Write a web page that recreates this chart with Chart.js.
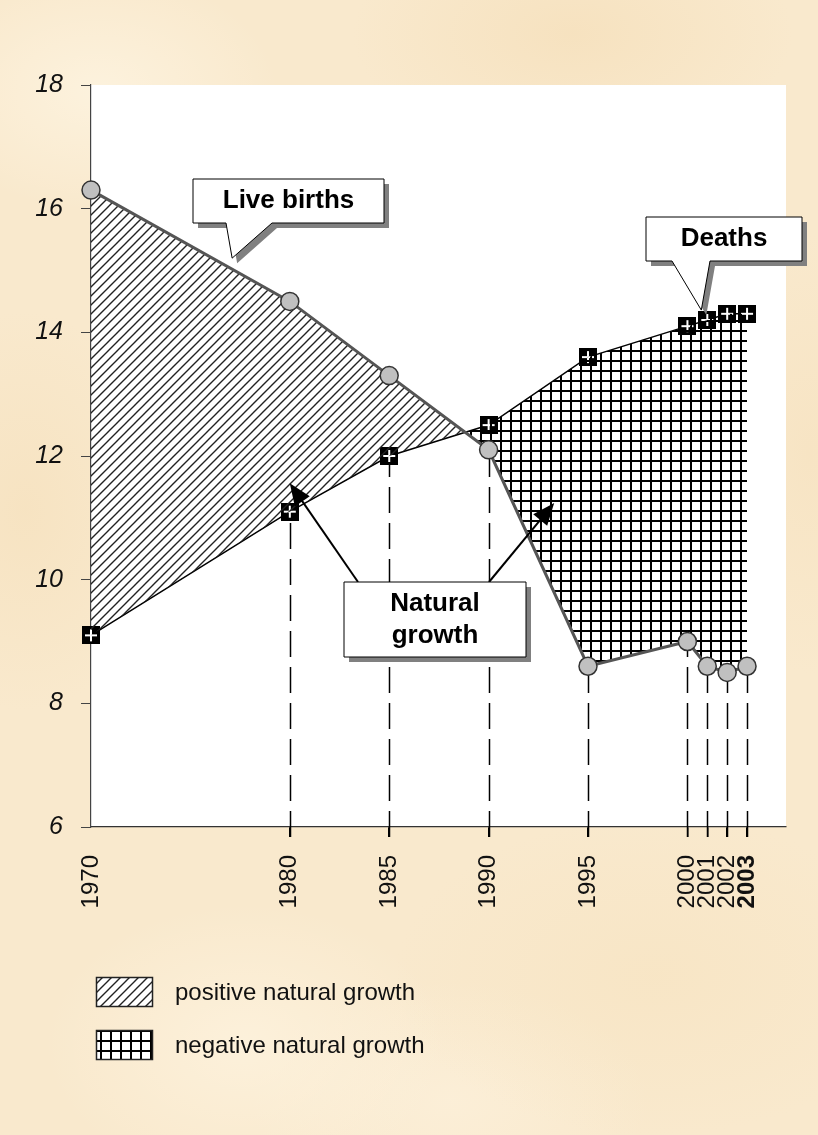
<!DOCTYPE html>
<html><head><meta charset="utf-8">
<script src="https://cdn.jsdelivr.net/npm/chart.js@4.4.1/dist/chart.umd.min.js"></script>
<style>
html,body{margin:0;padding:0;width:818px;height:1135px;overflow:hidden}
body{
 background-color:#f9e9cd;
 background-image:
  radial-gradient(ellipse 180px 120px at 12% 8%, rgba(255,248,232,0.6), rgba(255,248,232,0) 100%),
  radial-gradient(ellipse 220px 120px at 70% 3%, rgba(244,220,180,0.55), rgba(244,220,180,0) 100%),
  radial-gradient(ellipse 140px 200px at 3% 45%, rgba(244,221,182,0.5), rgba(244,221,182,0) 100%),
  radial-gradient(ellipse 200px 140px at 30% 92%, rgba(255,246,228,0.6), rgba(255,246,228,0) 100%),
  radial-gradient(ellipse 260px 160px at 80% 86%, rgba(246,225,188,0.45), rgba(246,225,188,0) 100%),
  radial-gradient(ellipse 110px 220px at 99% 40%, rgba(245,223,186,0.5), rgba(245,223,186,0) 100%),
  radial-gradient(ellipse 200px 120px at 55% 97%, rgba(253,242,222,0.6), rgba(253,242,222,0) 100%);
}
canvas{display:block}
</style></head><body>
<canvas id="c" width="818" height="1135"></canvas>
<script>
// ---- data ----
const years = [1970, 1980, 1985, 1990, 1995, 2000, 2001, 2002, 2003];
const liveBirths = [16.3, 14.5, 13.3, 12.1, 8.6, 9.0, 8.6, 8.5, 8.6];
const deaths = [9.1, 11.1, 12.0, 12.5, 13.6, 14.1, 14.2, 14.3, 14.3];
const yTicks = [6, 8, 10, 12, 14, 16, 18];
const boldYear = 2003;
const legendLabels = ['positive natural growth', 'negative natural growth'];
const birthsLabel = 'Live births';
const deathsLabel = 'Deaths';
const growthLabel = ['Natural', 'growth'];

const SANS = "'Liberation Sans',Arial,sans-serif";

// ---- patterns ----
function makeHatch() {
  const c = document.createElement('canvas'); c.width = 9; c.height = 9;
  const g = c.getContext('2d');
  g.strokeStyle = '#222'; g.lineWidth = 1.4;
  g.beginPath();
  g.moveTo(-1, 10); g.lineTo(10, -1);
  g.moveTo(-3, 3); g.lineTo(3, -3);
  g.moveTo(6, 12); g.lineTo(12, 6);
  g.stroke();
  return c;
}
function makeGrid() {
  const c = document.createElement('canvas'); c.width = 10; c.height = 10;
  const g = c.getContext('2d');
  g.fillStyle = '#000';
  g.fillRect(0, 0, 10, 2);
  g.fillRect(0, 0, 2, 10);
  return c;
}
function makeDeathMarker() {
  const c = document.createElement('canvas'); c.width = 18; c.height = 18;
  const g = c.getContext('2d');
  g.fillStyle = '#000'; g.fillRect(0, 0, 18, 18);
  g.fillStyle = '#fff';
  g.fillRect(3, 8, 12, 2);
  g.fillRect(8, 3, 2, 12);
  return c;
}
const ctx0 = document.getElementById('c').getContext('2d');
const hatchPat = ctx0.createPattern(makeHatch(), 'repeat');
const gridPat = ctx0.createPattern(makeGrid(), 'repeat');
const deathMarker = makeDeathMarker();

// ---- decorations plugin ----
function calloutPath(ctx, b, pl, pr, tip, dx, dy) {
  ctx.beginPath();
  ctx.moveTo(b.x0 + dx, b.y0 + dy);
  ctx.lineTo(b.x1 + dx, b.y0 + dy);
  ctx.lineTo(b.x1 + dx, b.y1 + dy);
  if (pl !== null) {
    ctx.lineTo(pr + dx, b.y1 + dy);
    ctx.lineTo(tip.x + dx, tip.y + dy);
    ctx.lineTo(pl + dx, b.y1 + dy);
  }
  ctx.lineTo(b.x0 + dx, b.y1 + dy);
  ctx.closePath();
}
function drawCallout(ctx, b, pl, pr, tip, lines, lh) {
  ctx.save();
  ctx.fillStyle = '#808080';
  calloutPath(ctx, b, pl, pr, tip, 5, 5); ctx.fill();
  ctx.fillStyle = '#fff'; ctx.strokeStyle = '#000'; ctx.lineWidth = 1;
  calloutPath(ctx, b, pl, pr, tip, 0, 0); ctx.fill(); ctx.stroke();
  ctx.fillStyle = '#000';
  ctx.font = 'bold 26px ' + SANS;
  ctx.textAlign = 'center'; ctx.textBaseline = 'middle';
  const cx = (b.x0 + b.x1) / 2, cy = (b.y0 + b.y1) / 2;
  lines.forEach((t, i) => ctx.fillText(t, cx, cy + (i - (lines.length - 1) / 2) * lh));
  ctx.restore();
}
function drawArrow(ctx, x0, y0, x1, y1) {
  const a = Math.atan2(y1 - y0, x1 - x0), L = 22, W = 9;
  ctx.save();
  ctx.strokeStyle = '#000'; ctx.fillStyle = '#000'; ctx.lineWidth = 2;
  ctx.beginPath(); ctx.moveTo(x0, y0);
  ctx.lineTo(x1 - Math.cos(a) * L * 0.8, y1 - Math.sin(a) * L * 0.8); ctx.stroke();
  ctx.beginPath();
  ctx.moveTo(x1, y1);
  ctx.lineTo(x1 - Math.cos(a) * L + Math.sin(a) * W, y1 - Math.sin(a) * L - Math.cos(a) * W);
  ctx.lineTo(x1 - Math.cos(a) * L - Math.sin(a) * W, y1 - Math.sin(a) * L + Math.cos(a) * W);
  ctx.closePath(); ctx.fill();
  ctx.restore();
}

const deco = {
  id: 'deco',
  beforeDraw(chart) {
    const a = chart.chartArea, ctx = chart.ctx;
    ctx.save(); ctx.fillStyle = '#fff';
    ctx.fillRect(a.left, a.top, a.right - a.left, a.bottom - a.top);
    ctx.restore();
  },
  beforeDatasetsDraw(chart) {
    const ctx = chart.ctx, xs = chart.scales.x, ys = chart.scales.y, a = chart.chartArea;
    ctx.save();
    ctx.strokeStyle = '#000'; ctx.lineWidth = 1.5; ctx.setLineDash([26, 10]);
    years.forEach((yr, i) => {
      const px0 = xs.getPixelForValue(yr);
      if (px0 <= a.left + 2) return;
      const lo = Math.min(liveBirths[i], deaths[i]);
      const py = ys.getPixelForValue(lo);
      const px = Math.round(px0) + 0.5;
      ctx.beginPath(); ctx.moveTo(px, a.bottom + 10); ctx.lineTo(px, py); ctx.stroke();
    });
    ctx.restore();
  },
  afterDatasetsDraw(chart) {
    const ctx = chart.ctx, xs = chart.scales.x, ys = chart.scales.y;
    const P = (x, y) => ({ x: xs.getPixelForValue(x), y: ys.getPixelForValue(y) });
    drawCallout(ctx, { x0: 193, y0: 179, x1: 384, y1: 223 }, 226, 272, P(1977.1, 15.2), [birthsLabel], 0);
    drawCallout(ctx, { x0: 646, y0: 217, x1: 802, y1: 261 }, 672, 710, P(2000.7, 14.36), [deathsLabel], 0);
    const t1 = P(1980.0, 11.56), t2 = P(1993.3, 11.24);
    drawArrow(ctx, 358, 582, t1.x, t1.y);
    drawArrow(ctx, 489, 582, t2.x, t2.y);
    drawCallout(ctx, { x0: 344, y0: 582, x1: 526, y1: 657 }, null, null, null, growthLabel, 32);
  },
  afterDraw(chart) {
    const ctx = chart.ctx;
    ctx.save();
    const items = [{ pat: hatchPat, y: 977 }, { pat: gridPat, y: 1030 }];
    items.forEach((it, i) => {
      ctx.fillStyle = '#fff'; ctx.fillRect(96, it.y, 56, 29);
      ctx.fillStyle = it.pat; ctx.fillRect(96, it.y, 56, 29);
      ctx.strokeStyle = '#222'; ctx.lineWidth = 1.5; ctx.strokeRect(96.5, it.y + 0.5, 56, 29);
      ctx.fillStyle = '#111'; ctx.font = '24px ' + SANS;
      ctx.textAlign = 'left'; ctx.textBaseline = 'middle';
      ctx.fillText(legendLabels[i], 175, it.y + 16);
    });
    ctx.restore();
  }
};

new Chart(ctx0, {
  type: 'line',
  data: {
    datasets: [
      {
        label: 'Live births',
        data: years.map((x, i) => ({ x, y: liveBirths[i] })),
        borderColor: '#555', borderWidth: 3, tension: 0,
        pointStyle: 'circle', pointRadius: 9, pointBackgroundColor: '#c0c0c0',
        pointBorderColor: '#333', pointBorderWidth: 1.5,
        fill: { target: 1, above: hatchPat, below: gridPat },
        clip: false
      },
      {
        label: 'Deaths',
        data: years.map((x, i) => ({ x, y: deaths[i] })),
        borderColor: '#000', borderWidth: 1.5, tension: 0,
        pointStyle: deathMarker, pointRadius: 9,
        fill: false, clip: false
      }
    ]
  },
  options: {
    responsive: false, animation: false, devicePixelRatio: 1,
    layout: { padding: { top: 85, right: 32, left: 0, bottom: 0 } },
    plugins: { legend: { display: false }, tooltip: { enabled: false } },
    scales: {
      x: {
        type: 'linear', min: 1970, max: 2004.96,
        afterFit(s) { s.height = 308; },
        afterBuildTicks(s) { s.ticks = years.map(v => ({ value: v })); },
        border: { display: true, color: '#333', width: 1.2 },
        grid: {
          drawOnChartArea: false, drawTicks: true, tickLength: 10, lineWidth: 1.5,
          color: c => (c.tick && c.tick.value === years[0]) ? 'rgba(0,0,0,0)' : '#000'
        },
        ticks: {
          autoSkip: false, minRotation: 90, maxRotation: 90, padding: 18, color: '#111',
          callback: v => String(v),
          font: c => ({ family: SANS, size: 24, weight: (c.tick && c.tick.value === boldYear) ? 'bold' : 'normal' })
        }
      },
      y: {
        min: 6, max: 18,
        afterFit(s) { s.width = 91; },
        afterBuildTicks(s) { s.ticks = yTicks.map(v => ({ value: v })); },
        border: { display: true, color: '#444', width: 1.2 },
        grid: { drawOnChartArea: false, drawTicks: true, tickLength: 10, color: '#444' },
        ticks: { padding: 18, color: '#111', font: { family: SANS, size: 25, style: 'italic' } }
      }
    }
  },
  plugins: [deco]
});
</script>
</body></html>
